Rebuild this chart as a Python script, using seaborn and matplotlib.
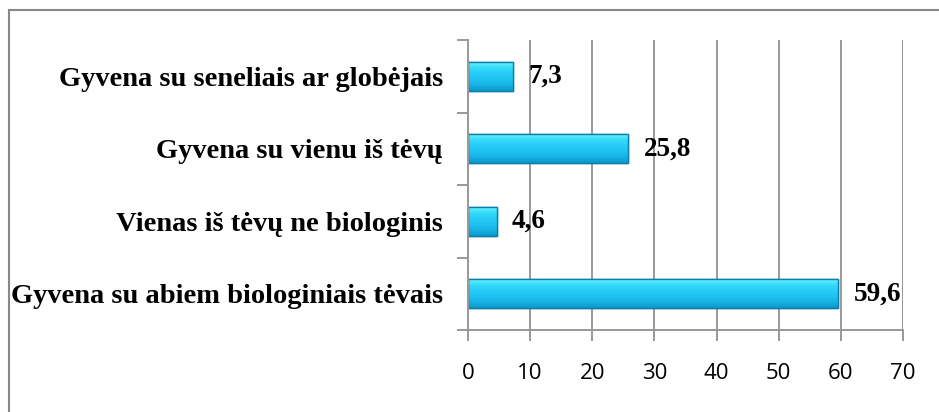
import matplotlib
matplotlib.use("Agg")
import numpy as np
import pandas as pd
import matplotlib.pyplot as plt
import seaborn as sns
from matplotlib.patches import Rectangle
from matplotlib.colors import LinearSegmentedColormap

# Duomenys
kategorijos = [
    "Gyvena su seneliais ar globėjais",
    "Gyvena su vienu iš tėvų",
    "Vienas iš tėvų ne biologinis",
    "Gyvena su abiem biologiniais tėvais",
]
reiksmes = [7.3, 25.8, 4.6, 59.6]
x_ticks = [0, 10, 20, 30, 40, 50, 60, 70]

df = pd.DataFrame({"kategorija": kategorijos, "reiksme": reiksmes})

sns.set_style("white")

W, H = 939, 412
fig = plt.figure(figsize=(W / 100, H / 100), dpi=100)
ax = fig.add_axes([468 / W, 1 - 330 / H, (903 - 468) / W, (330 - 40) / H])

sns.barplot(data=df, y="kategorija", x="reiksme", orient="h", ax=ax,
            color="#1fc0f0", edgecolor="#0d7fac", linewidth=1.0, width=0.4,
            saturation=1)

# gradientas ant stulpelių
cmap = LinearSegmentedColormap.from_list(
    "melyna", ["#6aeefc", "#34dafa", "#26ccf6", "#1ec2f0", "#16b2e6", "#0e96c8"])
grad = np.linspace(0, 1, 64).reshape(-1, 1)
for p in list(ax.patches):
    x0, y0 = p.get_x(), p.get_y()
    w, h = p.get_width(), p.get_height()
    im = ax.imshow(grad, cmap=cmap, aspect="auto", extent=[x0, x0 + w, y0 + h, y0],
                   zorder=p.get_zorder() + 0.1, interpolation="bilinear")
    im.set_clip_path(p)
    ax.add_patch(Rectangle((x0, y0), w, h, fill=False, edgecolor="#0d7fac",
                           linewidth=1.0, zorder=p.get_zorder() + 0.2))

ax.set_xlim(0, 70)
ax.set_ylim(len(kategorijos) - 0.5, -0.5)
ax.set_xticks(x_ticks)
ax.set_xticklabels([str(t) for t in x_ticks], fontfamily="Open Sans", fontsize=16,
                   color="black")
ax.grid(axis="x", color="#999999", linewidth=1.4)
ax.set_axisbelow(True)
ax.set_xlabel("")
ax.set_ylabel("")

# kategorijų ribos kaip smulkios žymės
ax.set_yticks([i - 0.5 for i in range(len(kategorijos) + 1)], minor=True)
ax.tick_params(axis="y", which="minor", length=8, width=1.4, color="#999999", left=True)
ax.tick_params(axis="y", which="major", length=0, pad=18)
ax.tick_params(axis="x", which="major", length=8, width=1.4, color="#999999", bottom=True, pad=16)
for lbl in ax.get_yticklabels():
    lbl.set_fontfamily("Liberation Serif")
    lbl.set_fontweight("bold")
    lbl.set_fontsize(20.5)
    lbl.set_color("black")

for side in ["top", "right"]:
    ax.spines[side].set_visible(False)
for side in ["left", "bottom"]:
    ax.spines[side].set_color("#999999")
    ax.spines[side].set_linewidth(1.4)

# reikšmių etiketės
for i, v in enumerate(reiksmes):
    ax.annotate(str(v).replace(".", ","), xy=(v, i), xytext=(11, 0),
                textcoords="offset points", va="center", ha="left", color="black",
                fontfamily="Liberation Serif", fontweight="bold", fontsize=19.5)

# išorinis rėmelis
fig.add_artist(Rectangle((9 / W, -0.1), 2, 1 - 10 / H + 0.1, transform=fig.transFigure,
                         fill=False, edgecolor="#888888", linewidth=1.5))

fig.savefig("out.png", dpi=100)
